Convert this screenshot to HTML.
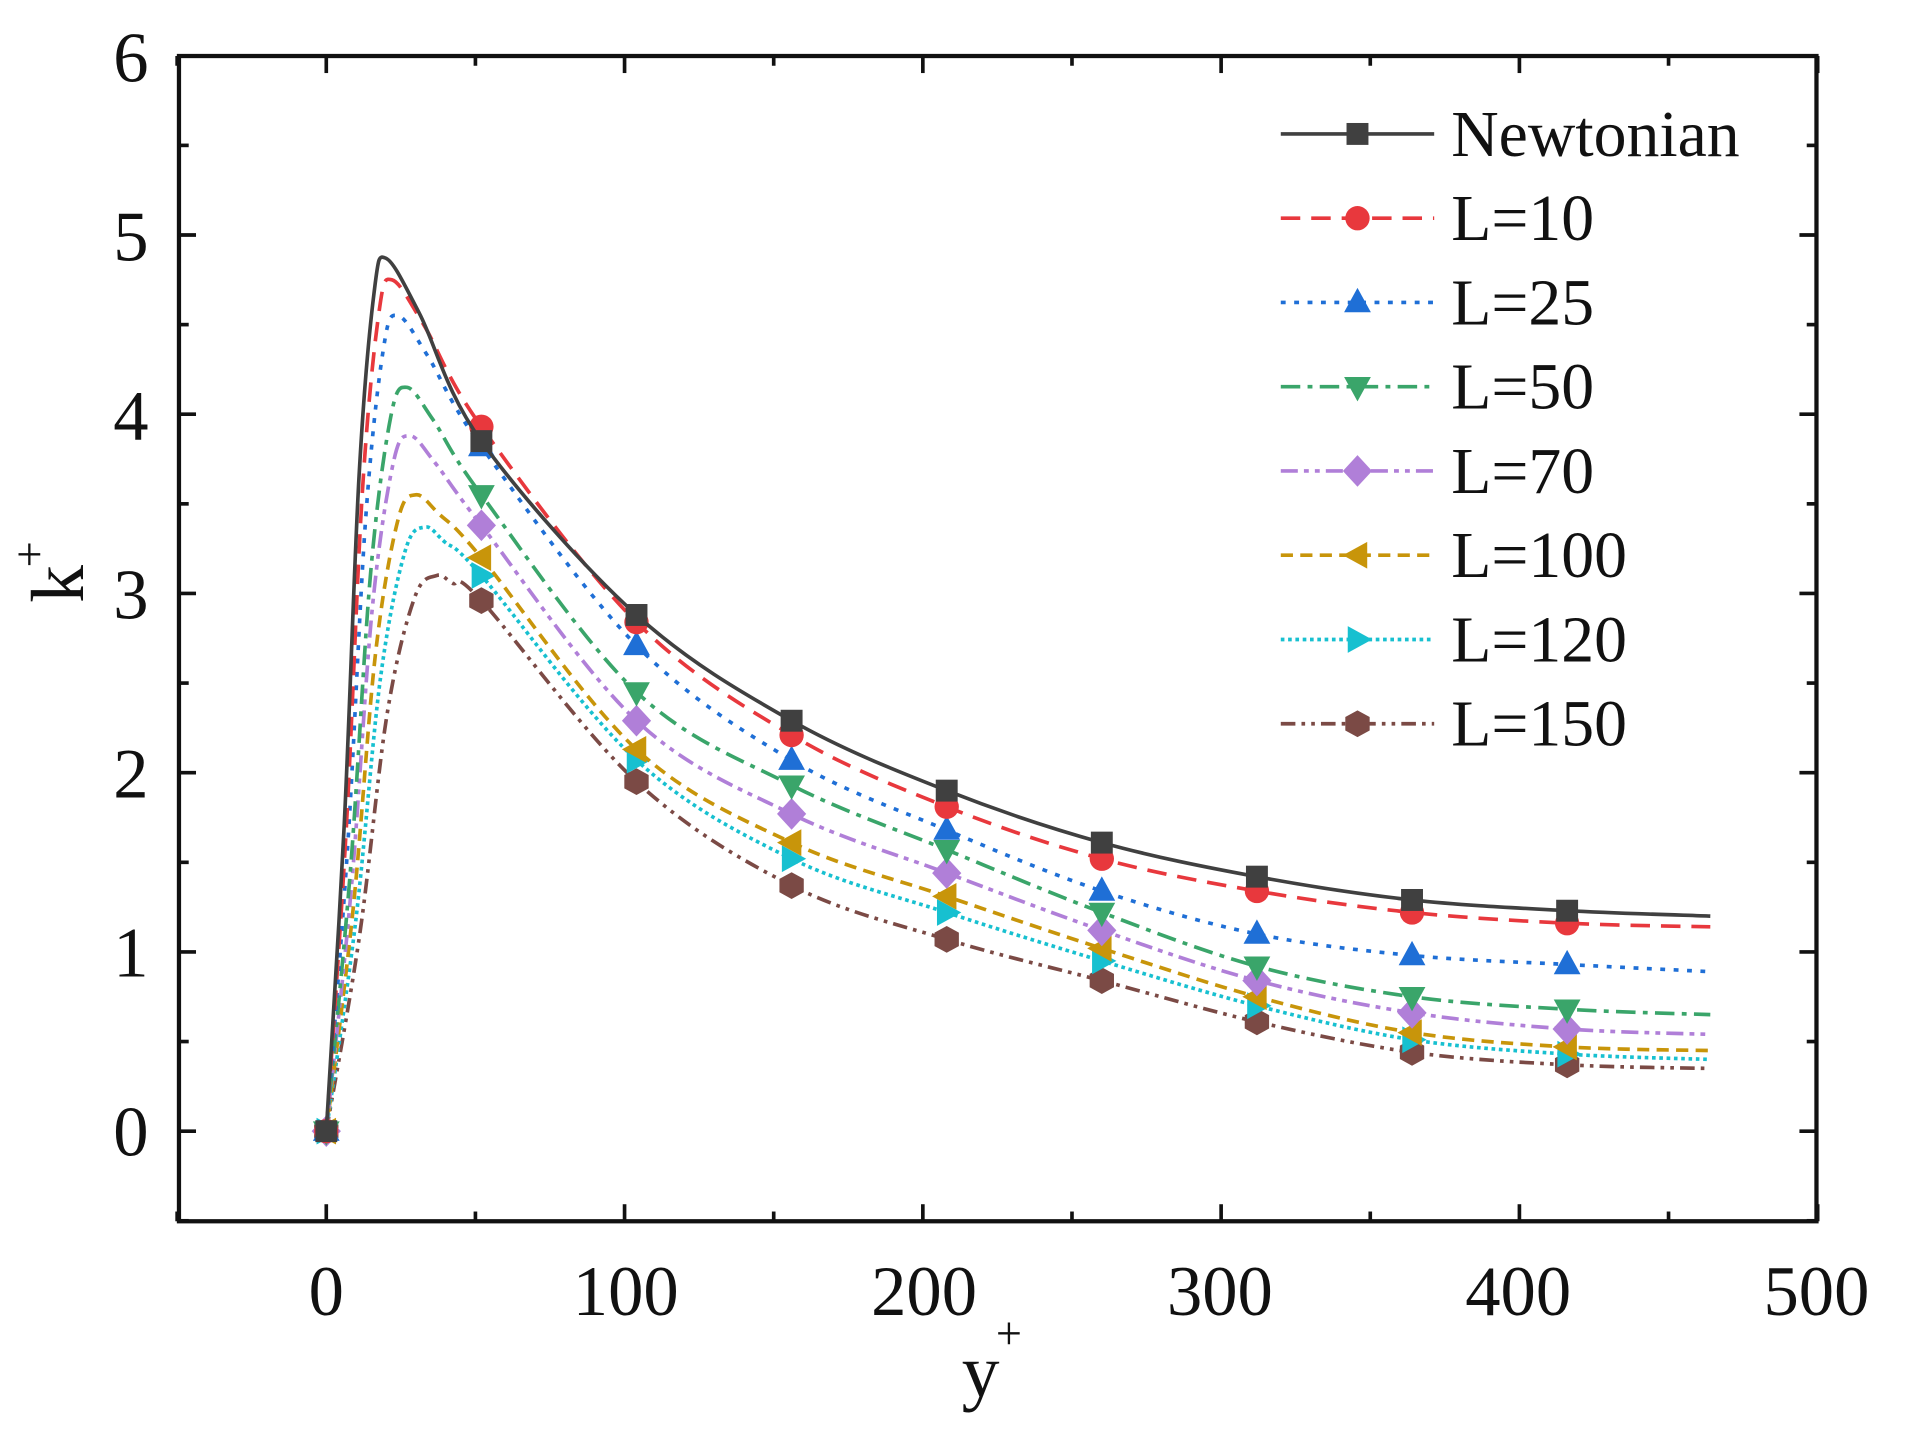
<!DOCTYPE html>
<html><head><meta charset="utf-8"><style>
html,body{margin:0;padding:0;background:#fff;}
svg{display:block;}
text{font-family:"Liberation Serif",serif;fill:#111;}
</style></head><body>
<svg id="s" width="1909" height="1438" viewBox="0 0 1568 1181" preserveAspectRatio="none" xmlns="http://www.w3.org/2000/svg">
<rect x="0" y="0" width="1568" height="1181" fill="#fff"/>
<g id="plot"></g>
<rect x="147" y="46" width="1345" height="957" fill="none" stroke="#111" stroke-width="3.5"/>
<g id="ticks" stroke="#111" stroke-width="3"></g>
<g font-size="58" text-anchor="middle">
<text x="268" y="1080">0</text><text x="514" y="1080">100</text><text x="759" y="1080">200</text>
<text x="1002" y="1080">300</text><text x="1247" y="1080">400</text><text x="1492" y="1080">500</text>
</g>
<g font-size="58" text-anchor="end">
<text x="122" y="949">0</text><text x="122" y="802">1</text><text x="122" y="655">2</text>
<text x="122" y="508">3</text><text x="122" y="361">4</text><text x="122" y="214">5</text><text x="122" y="67">6</text>
</g>
<text x="790" y="1147" font-size="62">y</text><text x="818" y="1108" font-size="38">+</text>
<g transform="translate(68,495) rotate(-90)"><text x="0" y="0" font-size="62">k</text><text x="29" y="-31" font-size="38">+</text></g>
<g id="legend"></g>
</svg>
<script>
var X=function(v){return 268+v*2.45;}, Y=function(v){return 929-v*147.2;};
var NS="http://www.w3.org/2000/svg";
function el(p,t,a){var e=document.createElementNS(NS,t);for(var k in a)e.setAttribute(k,a[k]);p.appendChild(e);return e;}
var tk=document.getElementById('ticks');
for(var v=-50;v<=500;v+=50){var x=X(v),L=(v%100==0)?14:8;
 el(tk,'line',{x1:x,y1:1003,x2:x,y2:1003-L});el(tk,'line',{x1:x,y1:46,x2:x,y2:46+L});}
for(var v=-0.5;v<=6;v+=0.5){var y=Y(v),L=(Math.abs(v%1)<0.01)?14:8;
 el(tk,'line',{x1:147,y1:y,x2:147+L,y2:y});el(tk,'line',{x1:1492,y1:y,x2:1492-L,y2:y});}
var xs=[52,104,156,208,260,312,364,416,464];
var S=[
 ["Newtonian","#404040","",'sq',20,4.87,[3.85,2.88,2.29,1.9,1.61,1.42,1.29,1.23,1.2]],
 ["L=10","#e8383d","16 9",'ci',22,4.75,[3.93,2.84,2.21,1.81,1.52,1.34,1.22,1.16,1.14]],
 ["L=25","#1f6fd6","4 7",'tu',24,4.55,[3.82,2.71,2.07,1.68,1.34,1.1,0.98,0.93,0.89]],
 ["L=50","#3aa56a","16 6 4 6",'td',27,4.15,[3.55,2.45,1.93,1.57,1.22,0.92,0.75,0.68,0.65]],
 ["L=70","#b07fd8","14 5 4 5 4 5",'di',28,3.88,[3.38,2.29,1.77,1.44,1.12,0.84,0.66,0.57,0.54]],
 ["L=100","#c8950a","10 6",'tl',30,3.55,[3.2,2.13,1.61,1.31,1.02,0.75,0.55,0.47,0.45]],
 ["L=120","#17c0d0","3 3",'tr',33,3.37,[3.1,2.07,1.52,1.22,0.95,0.7,0.51,0.43,0.40]],
 ["L=150","#7b4a45","12 5 3 5 3 5",'hx',37,3.1,[2.96,1.95,1.37,1.07,0.84,0.61,0.44,0.37,0.35]]];
function marker(g,t,x,y,c){
 if(t=='sq')el(g,'rect',{x:x-9,y:y-9,width:18,height:18,fill:c});
 else if(t=='ci')el(g,'circle',{cx:x,cy:y,r:10,fill:c});
 else{var p;
  if(t=='tu')p=[[0,-12],[11,8],[-11,8]];
  else if(t=='td')p=[[0,12],[11,-8],[-11,-8]];
  else if(t=='tl')p=[[-12,0],[8,-11],[8,11]];
  else if(t=='tr')p=[[12,0],[-8,-11],[-8,11]];
  else if(t=='di')p=[[0,-13],[12,0],[0,13],[-12,0]];
  else p=[[0,-11],[10,-5.5],[10,5.5],[0,11],[-10,5.5],[-10,-5.5]];
  el(g,'polygon',{points:p.map(function(q){return (x+q[0])+','+(y+q[1]);}).join(' '),fill:c});}}
function path(pts){var d='M'+pts[0][0]+','+pts[0][1];
 for(var i=0;i<pts.length-1;i++){var p0=pts[i-1]||pts[i],p1=pts[i],p2=pts[i+1],p3=pts[i+2]||p2;
  d+=' C'+(p1[0]+(p2[0]-p0[0])/6)+','+(p1[1]+(p2[1]-p0[1])/6)+' '+(p2[0]-(p3[0]-p1[0])/6)+','+(p2[1]-(p3[1]-p1[1])/6)+' '+p2[0]+','+p2[1];}
 return d;}
var g=document.getElementById('plot'),lg=document.getElementById('legend');
for(var i=S.length-1;i>=0;i--){var s=S[i],p=s[4],pk=s[5];
 var dp=[[0,0],[p*0.3,pk*0.35],[p*0.55,pk*0.75],[p*0.8,pk*0.96],[p,pk],[p+(52-p)*0.35,pk-(pk-s[6][0])*0.3]];
 for(var j=0;j<9;j++)dp.push([xs[j],s[6][j]]);
 el(g,'path',{d:path(dp.map(function(q){return [X(q[0]).toFixed(1),Y(q[1]).toFixed(1)].map(Number);})),fill:'none',stroke:s[1],'stroke-width':3,'stroke-dasharray':s[2]});
 marker(g,s[3],X(0),Y(0),s[1]);
 for(var j=0;j<8;j++)marker(g,s[3],X(xs[j]),Y(s[6][j]),s[1]);}
for(var i=0;i<S.length;i++){var s=S[i],y=110+i*69.2;
 el(lg,'line',{x1:1052,y1:y,x2:1178,y2:y,stroke:s[1],'stroke-width':3,'stroke-dasharray':s[2]});
 marker(lg,s[3],1115,y,s[1]);
 var t=el(lg,'text',{x:1192,y:y+18,'font-size':54});t.textContent=s[0];}
</script>
</body></html>
